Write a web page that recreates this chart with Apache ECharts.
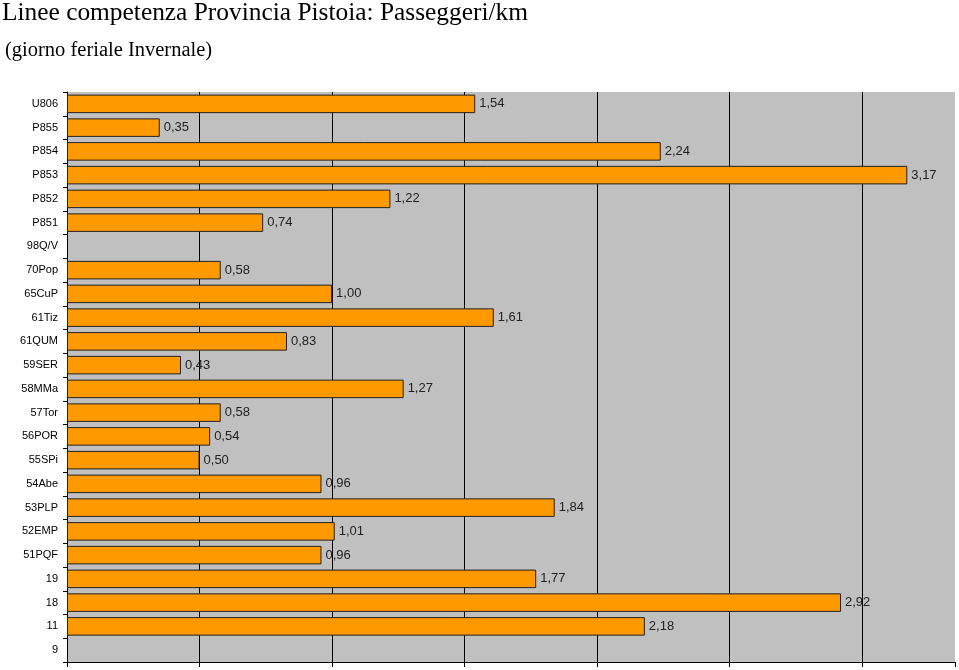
<!DOCTYPE html>
<html><head><meta charset="utf-8">
<script src="https://cdn.jsdelivr.net/npm/echarts@6/dist/echarts.min.js"></script>
<style>html,body{margin:0;padding:0;background:#fff}#c{width:959px;height:670px}</style>
</head><body><div id="c"></div>
<script>
const categories = ['U806','P855','P854','P853','P852','P851','98Q/V','70Pop','65CuP','61Tiz','61QUM','59SER','58MMa','57Tor','56POR','55SPi','54Abe','53PLP','52EMP','51PQF','19','18','11','9'];
const values = [1.54,0.35,2.24,3.17,1.22,0.74,null,0.58,1.00,1.61,0.83,0.43,1.27,0.58,0.54,0.50,0.96,1.84,1.01,0.96,1.77,2.92,2.18,null];
const titleText = 'Linee competenza Provincia Pistoia: Passeggeri/km';
const subtitleText = '(giorno feriale Invernale)';

const chart = echarts.init(document.getElementById('c'));
chart.setOption({
  animation: false,
  backgroundColor: '#fff',
  title: [
    {text: titleText, left: 2, top: 1, padding: 0, textStyle: {fontFamily: 'Liberation Serif', fontSize: 25.4, fontWeight: 'normal', color: '#000'}},
    {text: subtitleText, left: 5, top: 40, padding: 0, textStyle: {fontFamily: 'Liberation Serif', fontSize: 20.5, fontWeight: 'normal', color: '#000'}}
  ],
  grid: {left: 67, top: 92, right: 4, bottom: 8, show: true, backgroundColor: '#C0C0C0', borderWidth: 0},
  xAxis: {
    type: 'value', min: 0, max: 3.35, interval: 0.5,
    axisLine: {show: true, lineStyle: {color: '#000', width: 1}},
    axisTick: {show: true, length: 5, lineStyle: {color: '#000'}},
    axisLabel: {show: false},
    splitLine: {show: true, showMaxLine: false, lineStyle: {color: '#000', width: 1}}
  },
  yAxis: {
    type: 'category', data: categories, inverse: true,
    axisLine: {show: true, lineStyle: {color: '#000', width: 1}},
    axisTick: {show: true, length: 4, alignWithLabel: false, lineStyle: {color: '#000'}},
    axisLabel: {fontFamily: 'Liberation Sans', fontSize: 11, color: '#000', margin: 9},
    splitLine: {show: false}
  },
  series: [{
    type: 'bar', data: values, barCategoryGap: '22%',
    itemStyle: {color: '#FF9900', borderColor: '#222', borderWidth: 1},
    label: {show: true, position: 'right', distance: 4, fontFamily: 'Liberation Sans', fontSize: 13, color: '#222',
      formatter: p => p.value == null ? '' : p.value.toFixed(2).replace('.', ',')}
  }]
});
</script></body></html>
